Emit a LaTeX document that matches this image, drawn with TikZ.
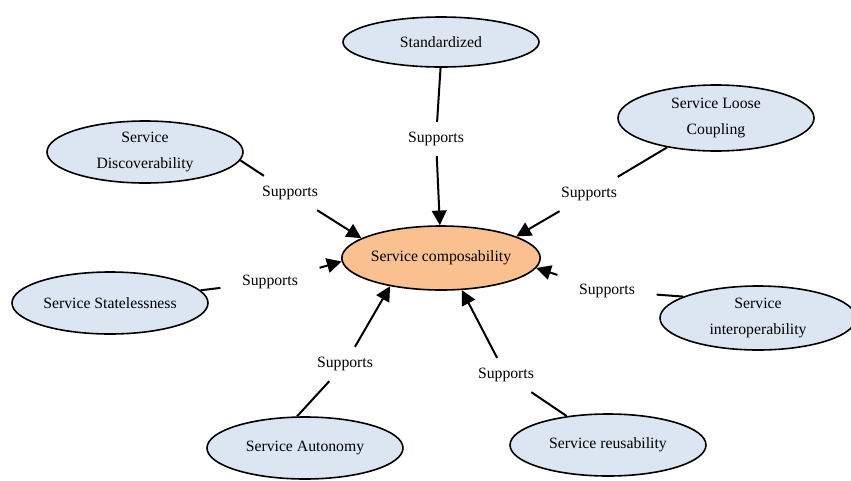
\documentclass[tikz,border=0pt]{standalone}
\usepackage{fontspec}
\setmainfont{Liberation Serif}
\usepackage{tikz}
\usetikzlibrary{shapes.geometric,arrows.meta}
\definecolor{principlefill}{RGB}{220,230,242}
\definecolor{goalfill}{RGB}{250,192,144}

\begin{document}
\begin{tikzpicture}[x=0.75pt, y=-0.75pt, principle/.style={ellipse, draw=black, line width=1.2pt, fill=principlefill, inner sep=0pt, minimum width=147pt, minimum height=46.5pt, align=center, font=\fontsize{11.8}{20}\selectfont}, goal/.style={principle, fill=goalfill, minimum height=48pt}, supports/.style={inner xsep=16pt, inner ysep=7.5pt, font=\fontsize{11.8}{14}\selectfont}, link/.style={draw=black, line width=1.5pt}, arrow/.style={link, -{Triangle[length=11pt,width=11pt]}}]
\useasboundingbox (0,0) rectangle (851,480);
% goal in the middle
\node[goal] (comp) at (441,258) {Service composability};
% principles around it
\node[principle, minimum height=37.5pt] (std) at (441,42) {Standardized};
\node[principle, minimum height=49.5pt] (loose) at (716,118) {Service Loose\\Coupling};
\node[principle] (disc) at (145,152) {Service\\Discoverability};
\node[principle] (state) at (110,303) {Service Statelessness};
\node[principle, minimum height=48pt] (inter) at (758,318) {Service\\interoperability};
\node[principle] (reuse) at (608,445) {Service reusability};
\node[principle] (auto) at (305,448) {Service Autonomy};
% edge labels
\node[supports] (s0) at (436,139) {Supports};
\node[supports] (s1) at (589,194) {Supports};
\node[supports] (s2) at (290,193) {Supports};
\node[supports] (s3) at (270,282) {Supports};
\node[supports] (s4) at (607,291) {Supports};
\node[supports] (s5) at (345,364) {Supports};
\node[supports] (s6) at (506,375) {Supports};
\draw[link] (std.-91) -- (s0); \draw[arrow] (s0) -- (comp.92);
\draw[link] (loose.211) -- (s1); \draw[arrow] (s1) -- (comp.16);
\draw[link] (disc.-5) -- (s2); \draw[arrow] (s2) -- (comp.166);
\draw[link] (state.8) -- (s3); \draw[arrow] (s3) -- (comp.182);
\draw[link] (inter.164) -- (s4); \draw[arrow] (s4) -- (comp.354);
\draw[link] (auto.104) -- (s5); \draw[arrow] (s5) -- (comp.209);
\draw[link] (reuse.145) -- (s6); \draw[arrow] (s6) -- (comp.303);
\end{tikzpicture}
\end{document}
